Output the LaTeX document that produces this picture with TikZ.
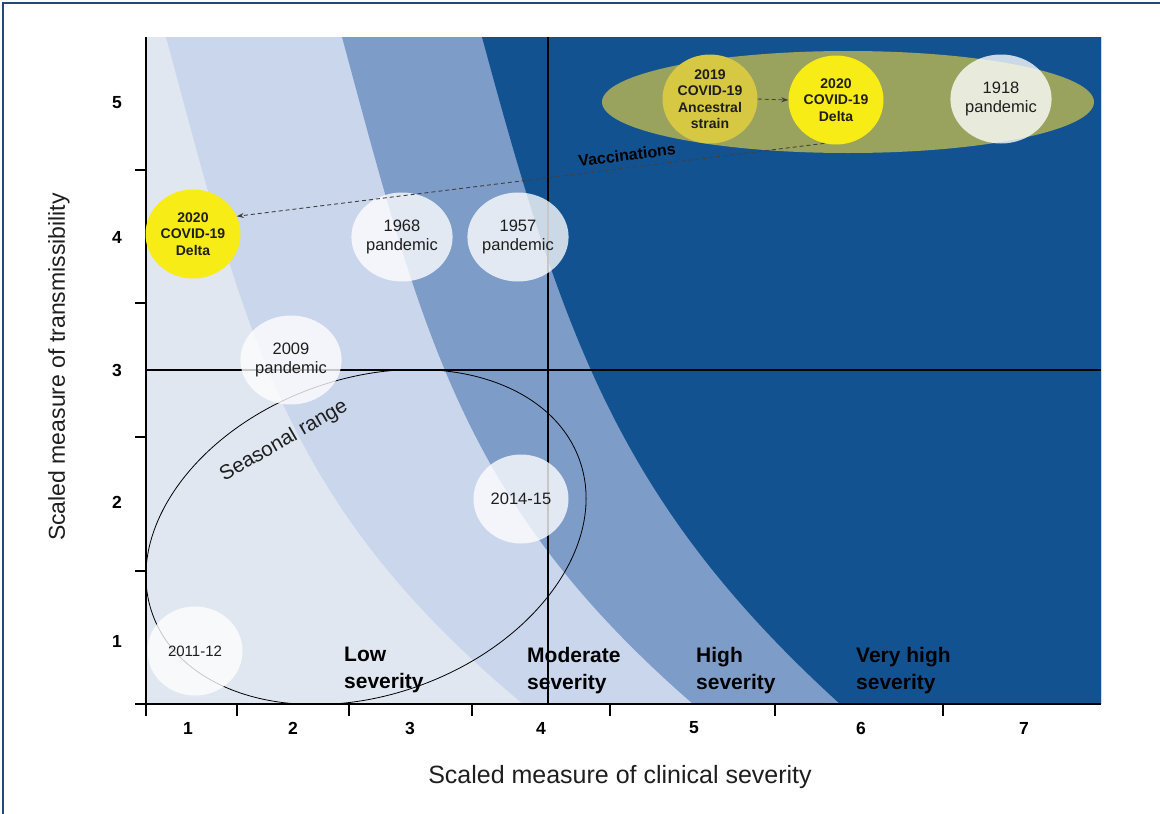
\documentclass[tikz,border=0pt]{standalone}
\usepackage{fontspec}
\setmainfont{Liberation Sans}
\usetikzlibrary{shapes.geometric,arrows.meta}
\definecolor{bglight}{RGB}{225,231,241}
\definecolor{bandlight}{RGB}{202,214,236}
\definecolor{bandmed}{RGB}{125,156,200}
\definecolor{banddark}{RGB}{19,82,144}
\definecolor{ellolive}{RGB}{154,163,94}
\definecolor{covyellow}{RGB}{248,236,22}
\definecolor{mustard}{RGB}{214,200,66}
\definecolor{framecol}{RGB}{40,72,120}
\definecolor{txtdark}{RGB}{30,30,30}
\tikzset{
  bub/.style={ellipse, minimum width=95pt, minimum height=89pt, inner sep=0pt, align=center, text=txtdark},
  wbub/.style={bub, fill=white, fill opacity=0.78, text opacity=1, font=\fontsize{16.5}{19.5}\selectfont},
  ybub/.style={bub, fill=covyellow, font=\bfseries\fontsize{14}{16.5}\selectfont},
  mbub/.style={bub, fill=mustard, font=\bfseries\fontsize{14}{16.5}\selectfont},
  ticklab/.style={font=\bfseries\fontsize{17.5}{20}\selectfont},
  sevlab/.style={font=\bfseries\fontsize{21}{27}\selectfont, align=left, anchor=north west, inner sep=0pt},
  axline/.style={line width=1.8pt, black},
  quadline/.style={line width=1.4pt, black},
  dasharrow/.style={dashed, dash pattern=on 4pt off 3pt, line width=0.9pt, black!75, -{Stealth[length=7pt,width=5pt]}}
}
\begin{document}
\begin{tikzpicture}[x=1pt,y=-1pt]
\path[use as bounding box] (0,0) rectangle (1160,814);
\draw[framecol, line width=1.5pt] (3,814) -- (3,3) -- (1160,3);
% severity bands
\fill[bglight] (146,37) rectangle (1101,704);
\fill[bandlight] (166,37) .. controls (247,337) and (283,504) .. (523,704) -- (1101,704) -- (1101,37) -- cycle;
\fill[bandmed] (342,37) .. controls (423,337) and (463,504) .. (693,704) -- (1101,704) -- (1101,37) -- cycle;
\fill[banddark] (482,37) .. controls (563,337) and (620,504) .. (840,704) -- (1101,704) -- (1101,37) -- cycle;
% seasonal range
\draw[line width=0.8pt, rotate around={20:(366,537)}] (366,537) ellipse [x radius=227, y radius=158];
\node[rotate=30, font=\fontsize{20.5}{25}\selectfont, text=txtdark] (seas) at (284,441) {Seasonal range};
% quadrant lines
\draw[quadline] (146,370) -- (1101,370);
\draw[quadline] (548,37) -- (548,704);
% axes
\draw[axline] (146,37) -- (146,716);
\draw[axline] (135,704) -- (1101,704);
\foreach \x in {237,349,472,610,775,943} \draw[axline] (\x,704) -- (\x,716);
\foreach \y in {170,303,437,571} \draw[axline] (135,\y) -- (146,\y);
\foreach \x/\l in {188/1,293/2,410/3,541/4,694/5,861/6,1024/7} \node[ticklab] at (\x,728) {\l};
\foreach \y/\l in {103/5,237/4,370/3,502/2,641/1} \node[ticklab] at (117,\y) {\l};
\node[font=\fontsize{25}{30}\selectfont, text=txtdark] (xt) at (620,777) {Scaled measure of clinical severity};
\node[rotate=90, font=\fontsize{23}{28}\selectfont, text=txtdark] (yt) at (59,367) {Scaled measure of transmissibility};
% top ellipse
\fill[ellolive] (848,102) ellipse [x radius=246, y radius=51];
% bubbles
\node[wbub] (p1968) at (402,237) {1968\\pandemic};
\node[wbub] (p1957) at (518,237) {1957\\pandemic};
\node[wbub] (p2009) at (291,360) {2009\\pandemic};
\node[wbub] (s1415) at (521,499) {2014-15};
\node[wbub, font=\fontsize{15}{18}\selectfont] (s1112) at (195,651) {2011-12};
\node[wbub] (p1918) at (1001,99) {1918\\pandemic};
\node[ybub] (dleft) at (193,234) {2020\\COVID-19\\Delta};
\node[mbub] (anc) at (710,99) {2019\\COVID-19\\Ancestral\\strain};
\node[ybub] (dtop) at (836,100) {2020\\COVID-19\\Delta};
% arrows
\draw[dasharrow] (anc.east) -- (dtop.west);
\draw[dasharrow] (dtop.255) -- (dleft.22);
\node[rotate=7.1, font=\bfseries\fontsize{16}{19}\selectfont, text=black] (vacc) at (627,155) {Vaccinations};
% severity labels
\node[sevlab] (low) at (344,647) {Low\\severity};
\node[sevlab] (mod) at (527,647) {Moderate\\severity};
\node[sevlab] (high) at (696,647) {High\\severity};
\node[sevlab] (vhigh) at (856,647) {Very high\\severity};
\end{tikzpicture}
\end{document}
